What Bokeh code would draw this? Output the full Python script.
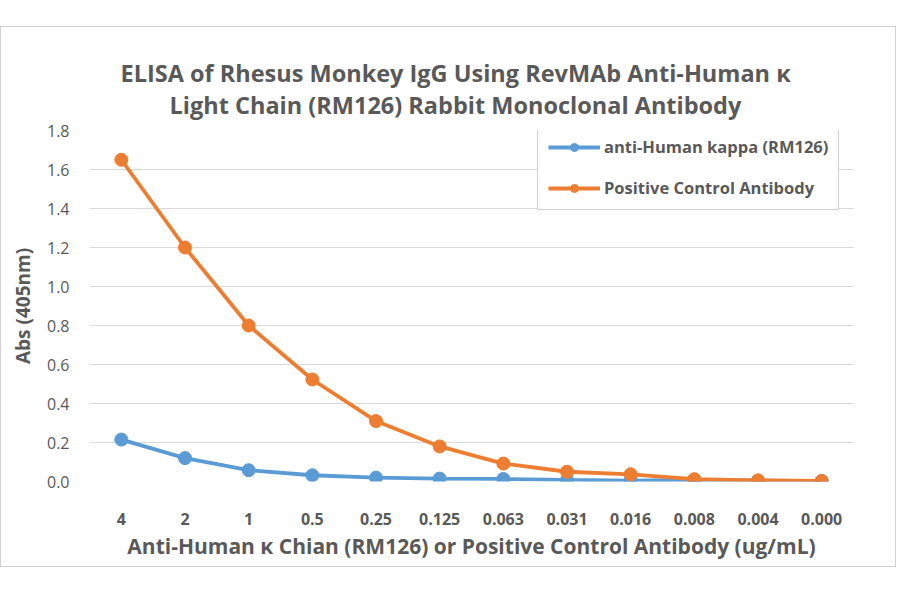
from bokeh.plotting import figure
from bokeh.models import (Range1d, FactorRange, Legend, LegendItem, Spacer,
                          SingleIntervalTicker, CustomJSTickFormatter, Title)
from bokeh.layouts import column
from bokeh.embed import file_html
from bokeh.resources import INLINE

categories = ["4", "2", "1", "0.5", "0.25", "0.125", "0.063", "0.031", "0.016", "0.008", "0.004", "0.000"]
kappa_values = [0.215, 0.12, 0.058, 0.032, 0.02, 0.015, 0.013, 0.008, 0.005, 0.008, 0.004, 0.002]
control_values = [1.65, 1.20, 0.80, 0.523, 0.31, 0.18, 0.092, 0.05, 0.037, 0.012, 0.006, 0.003]
series_names = ["anti-Human kappa (RM126)", "Positive Control Antibody"]
title_lines = ["ELISA of Rhesus Monkey IgG Using RevMAb Anti-Human \u03ba",
               "Light Chain (RM126) Rabbit Monoclonal Antibody"]
x_title = "Anti-Human \u03ba Chian (RM126) or Positive Control Antibody (ug/mL)"
y_title = "Abs (405nm)"

FONT = "Open Sans"
GRAY = "#595959"
BLUE = "#5B9BD5"
ORANGE = "#ED7D31"

p = figure(width=896, height=541, x_range=FactorRange(*categories, range_padding=0),
           y_range=Range1d(0, 1.8), output_backend="svg", toolbar_location=None,
           min_border_left=88, min_border_right=44, min_border_top=103, min_border_bottom=87)
p.styles = {"border": "1px solid #d0d0d0"}
p.background_fill_color = "white"
p.border_fill_color = "white"
p.outline_line_color = None

p.xgrid.grid_line_color = None
p.ygrid.grid_line_color = "#d9d9d9"
p.ygrid.grid_line_width = 1
p.yaxis.ticker = SingleIntervalTicker(interval=0.2)
p.yaxis.formatter = CustomJSTickFormatter(code="return tick.toFixed(1);")

for ax in (p.xaxis[0], p.yaxis[0]):
    ax.axis_line_color = None
    ax.major_tick_line_color = None
    ax.minor_tick_line_color = None
    ax.major_label_text_font = FONT
    ax.major_label_text_color = GRAY
    ax.major_label_text_font_size = "16px"
    ax.axis_label_text_font = FONT
    ax.axis_label_text_color = GRAY
    ax.axis_label_text_font_style = "bold"
    ax.axis_label_text_font_size = "19px"

p.xaxis.major_label_text_font_style = "bold"
p.xaxis.major_label_standoff = 25
p.xaxis.axis_label = x_title
p.xaxis.axis_label_text_font_size = "21px"
p.xaxis.axis_label_standoff = 4
p.yaxis.major_label_standoff = 14
p.yaxis.axis_label = y_title
p.yaxis.axis_label_standoff = 8

l1 = p.line(categories, kappa_values, line_color=BLUE, line_width=3.8)
c1 = p.scatter(categories, kappa_values, size=13, fill_color=BLUE, line_color=BLUE)
l2 = p.line(categories, control_values, line_color=ORANGE, line_width=3.8)
c2 = p.scatter(categories, control_values, size=13, fill_color=ORANGE, line_color=ORANGE)

legend = Legend(items=[LegendItem(label=series_names[0], renderers=[l1, c1]),
                       LegendItem(label=series_names[1], renderers=[l2, c2])],
                location=(448, 271), margin=0, padding=10, spacing=18,
                glyph_width=52, glyph_height=20, label_height=20, label_standoff=4,
                label_text_font=FONT, label_text_font_style="bold",
                label_text_font_size="16.5px", label_text_color=GRAY,
                border_line_color="#a6a6a6", border_line_width=1,
                background_fill_color="white", background_fill_alpha=1)
p.add_layout(legend)

# second line first: it sits next to the plot frame
for txt, off, so in [(title_lines[1], 80, 20), (title_lines[0], 31, -24)]:
    p.add_layout(Title(text=txt, align="left", offset=off, text_font=FONT,
                       text_font_style="bold", text_font_size="23.5px",
                       text_color=GRAY, standoff=so), "above")

layout = column(Spacer(height=26), p)
open("out.html", "w").write(file_html(layout, INLINE))
